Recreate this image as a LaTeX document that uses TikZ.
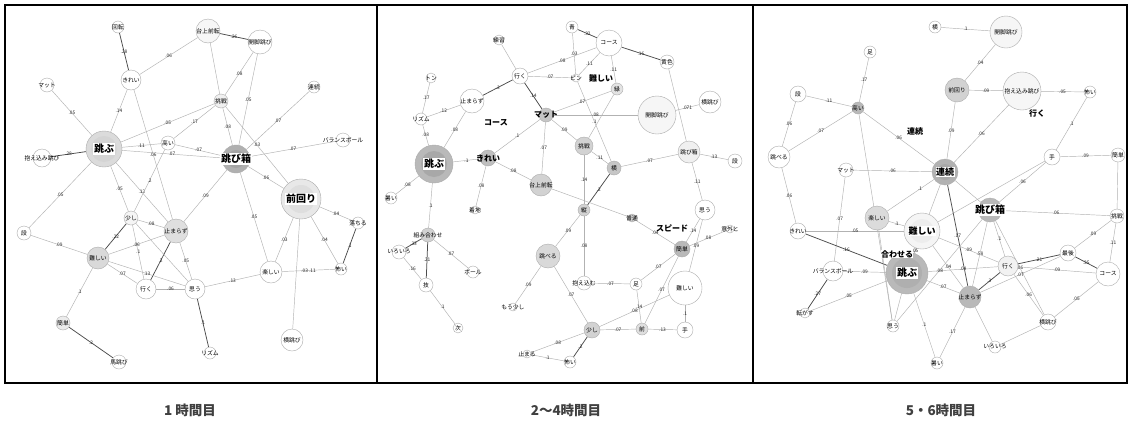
\documentclass[tikz,border=0pt]{standalone}
\usepackage{fontspec}
\setmainfont{Noto Sans CJK JP}
\pgfdeclarelayer{bg}
\pgfsetlayers{bg,main}
\newcommand\nf{\fontsize{5.8}{6}\selectfont}
\newcommand\lf{\fontsize{4.8}{5}\selectfont}
\newcommand\bigf{\fontsize{10}{11}\selectfont\bfseries}
\newcommand\midf{\fontsize{8}{9}\selectfont\bfseries}
\newcommand\capf{\fontsize{13.5}{15}\selectfont\bfseries}
\tikzset{
 n/.style={circle,draw=gray!65,line width=.4pt,fill=white,inner sep=0pt},
 ringnode/.style={circle,draw=none,inner sep=0pt},
 lb/.style={font=\nf,inner sep=0pt,text=black},
 bt/.style={font=\bigf,fill=white,inner sep=1pt,text=black},
 bm/.style={font=\midf,inner sep=0.5pt,text=black},
 ft/.style={font=\midf,inner sep=0pt,text=black},
 ed/.style={draw=gray!60,line width=.45pt},
 sd/.style={draw=black!70,line width=.75pt},
 el/.style={font=\lf,inner sep=.5pt,text=black!85},
 panelframe/.style={draw=black,line width=2.6pt},
 captext/.style={font=\capf,text=black!75},
}
\newcommand\nd[5][]{\node[n,minimum size=#4pt,#1,label={[lb]center:#5}] (#2) at (#3) {};}
\newcommand\eA[3]{\draw[ed] (#1) -- node[el]{#3} (#2);}
\newcommand\eS[3]{\draw[sd] (#1) -- node[el]{#3} (#2);}
\begin{document}
\begin{tikzpicture}[x=1pt,y=-1pt]
\begin{pgfonlayer}{bg}
\fill[white] (0,0) rectangle (1132,421);
\end{pgfonlayer}
\path[use as bounding box] (0,0) rectangle (1132,421);
% ---------- panel 1 ----------
\nd{aKaiten}{118,27}{12}{回転}
\nd{aKirei}{131,80}{20}{きれい}
\nd{aMat}{47,85}{14}{マット}
\nd[fill=gray!28]{aTobu}{104,149}{36}{}
\node[ringnode,fill=gray!34,minimum size=26pt] (aTobuI) at (aTobu) {};
\node[bt] (aTobuT) at (aTobu) {跳ぶ};
\nd{aKakae}{42,158}{18}{抱え込み跳び}
\nd{aTakai}{168,143}{14}{高い}
\nd[fill=gray!6]{aDai}{208,31}{24}{台上前転}
\nd{aKaikyaku}{260,42}{24}{開脚跳び}
\nd[fill=gray!12]{aChosen}{221,101}{14}{挑戦}
\nd{aRenzoku}{314,87}{12}{連続}
\nd{aBall}{343,140}{14}{バランスボール}
\nd[fill=gray!62]{aBox}{236,159}{28}{}
\node[ringnode,fill=gray!72,minimum size=18pt] (aBoxI) at (aBox) {};
\node[bt] (aBoxT) at (aBox) {跳び箱};
\nd[fill=gray!18]{aMae}{301,199}{40}{}
\node[ringnode,fill=gray!26,minimum size=28pt] (aMaeI) at (aMae) {};
\node[bt] (aMaeT) at (aMae) {前回り};
\nd{aDan}{24,233}{14}{段}
\nd[fill=gray!8]{aSukoshi}{131,218}{14}{少し}
\nd[fill=gray!25]{aTomarazu}{176,231}{24}{止まらず}
\nd[fill=gray!30]{aMuzu}{98,258}{22}{難しい}
\nd{aIku}{146,289}{20}{行く}
\nd{aOmou}{195,289}{20}{思う}
\nd[fill=gray!15]{aKantan}{63,323}{14}{簡単}
\nd{aUma}{119,362}{14}{馬跳び}
\nd{aTanoshii}{271,272}{22}{楽しい}
\nd{aKowai}{341,269}{12}{怖い}
\nd{aOchiru}{358,223}{12}{落ちる}
\nd{aRhythm}{210,353}{12}{リズム}
\nd{aYoko}{292,340}{22}{横跳び}
% ---------- panel 2 ----------
\nd{bRenshu}{499,40}{10}{練習}
\nd{bAo}{572,27}{12}{青}
\nd{bCourse}{609,43}{26}{コース}
\nd{bKiiro}{667,62}{14}{黄色}
\nd{bIku}{520,76}{16}{行く}
\nd{bTon}{431,78}{10}{トン}
\nd{bTomarazu}{472,101}{24}{止まらず}
\nd{bRhythm}{421,119}{12}{リズム}
\nd[fill=gray!45,label={[bm]center:マット}]{bMat}{546,115}{14}{}
\nd{bPin}{576,78}{8}{ピン}
\nd[fill=gray!22]{bMidori}{617,89}{12}{緑}
\nd[fill=gray!7]{bKaikyaku}{657,115}{38}{開脚跳び}
\nd{bYokotobi}{710,102}{22}{横跳び}
\nd[fill=gray!55]{bTobu}{434,164}{38}{}
\node[ringnode,fill=gray!68,minimum size=26pt] (bTobuI) at (bTobu) {};
\node[bt] (bTobuT) at (bTobu) {跳ぶ};
\nd[fill=gray!50,label={[bm]center:きれい}]{bKirei}{488,158}{16}{}
\nd[fill=gray!35]{bDai}{541,185}{22}{台上前転}
\nd[fill=gray!35]{bChosen}{584,146}{18}{挑戦}
\nd[fill=gray!45]{bYoko}{614,168}{14}{横}
\nd[fill=gray!12]{bBox}{689,152}{22}{跳び箱}
\nd{bDan}{735,161}{14}{段}
\nd{bAtsui}{391,198}{12}{暑い}
\nd[fill=gray!35]{bKumi}{428,235}{14}{組み合わせ}
\nd{bIroiro}{399,252}{14}{いろいろ}
\nd{bChakuchi}{475,210}{8}{着地}
\nd[fill=gray!30]{bToberu}{548,256}{24}{跳べる}
\nd{bBall}{473,272}{12}{ボール}
\nd{bWaza}{426,285}{14}{技}
\nd{bMosukoshi}{513,307}{8}{もう少し}
\nd{bTsugi}{458,328}{10}{次}
\nd{bTomaru}{527,354}{8}{止まる}
\nd{bKowai}{570,362}{12}{怖い}
\nd[fill=gray!35]{bSukoshi}{592,330}{16}{少し}
\nd[fill=gray!25]{bMae}{642,329}{12}{前}
\nd{bTe}{685,330}{16}{手}
\nd{bAshi}{636,284}{12}{足}
\nd{bKakaekomu}{584,283}{14}{抱え込む}
\nd[fill=gray!55]{bKantan}{682,249}{16}{簡単}
\nd{bMuzu}{685,288}{34}{難しい}
\nd{bOmou}{705,210}{20}{思う}
\nd{bIgai}{730,229}{8}{意外と}
\nd[fill=gray!40]{bFutsu}{632,218}{8}{普通}
\nd[fill=gray!35]{bTate}{584,210}{12}{縦}
\node[ft] (bCourseT) at (496,123) {コース};
\node[ft] (bMuzuT) at (601,78) {難しい};
\node[ft] (bSpeedT) at (672,228) {スピード};
% ---------- panel 3 ----------
\nd{cYoko}{935,27}{12}{横}
\nd[fill=gray!7]{cKaikyaku}{1006,32}{32}{開脚跳び}
\nd{cAshi}{870,52}{12}{足}
\nd{cDan}{798,94}{16}{段}
\nd[fill=gray!55]{cTakai}{858,108}{12}{高い}
\nd[fill=gray!35]{cMae}{957,90}{24}{前回り}
\nd[fill=gray!7]{cKakae}{1022,91}{38}{抱え込み跳び}
\nd{cKowai}{1090,92}{12}{怖い}
\nd{cToberu}{779,157}{22}{跳べる}
\nd{cMat}{846,170}{14}{マット}
\nd[fill=gray!60]{cRenzoku}{945,172}{26}{}
\node[ringnode,fill=gray!68,minimum size=16pt] (cRenzokuI) at (cRenzoku) {};
\node[bm,fill=white,font=\fontsize{9}{10}\selectfont\bfseries] (cRenzokuT) at (cRenzoku) {連続};
\nd{cTe}{1052,157}{16}{手}
\nd{cKantan}{1118,155}{14}{簡単}
\nd{cKirei}{798,231}{16}{きれい}
\nd[fill=gray!28]{cTanoshii}{877,218}{24}{楽しい}
\nd[fill=gray!8]{cMuzu}{922,231}{36}{}
\node[ringnode,fill=gray!14,minimum size=24pt] (cMuzuI) at (cMuzu) {};
\node[bm,fill=white,font=\fontsize{9}{10}\selectfont\bfseries] (cMuzuT) at (cMuzu) {難しい};
\nd[fill=gray!55]{cBox}{990,210}{24}{}
\node[bt] (cBoxT) at (cBox) {跳び箱};
\nd{cRight}{1117,216}{14}{挑戦}
\nd{cBall}{833,271}{20}{バランスボール}
\nd[fill=gray!55]{cTobu}{907,273}{42}{}
\node[ringnode,fill=gray!63,minimum size=30pt] (cTobuI) at (cTobu) {};
\node[bt] (cTobuT) at (cTobu) {跳ぶ};
\nd{cKorogasu}{805,313}{10}{転がす}
\nd{cOmou}{893,326}{12}{思う}
\nd{cAtsui}{937,363}{12}{暑い}
\nd[fill=gray!10]{cIku}{1008,266}{20}{行く}
\nd{cSaigo}{1068,253}{16}{最後}
\nd{cCourse}{1108,274}{24}{コース}
\nd[fill=gray!55]{cTomarazu}{970,297}{22}{止まらず}
\nd{cYokotobi}{1048,322}{16}{横跳び}
\nd{cIroiro}{995,347}{12}{いろいろ}
\node[ft] (cIkuT) at (1037,113) {行く};
\node[ft] (cRenzokuF) at (915,131) {連続};
\node[ft,fill=white] (cAwaseruT) at (897,254) {合わせる};
% ---------- edges ----------
\begin{pgfonlayer}{bg}
% panel 1
\eS{aKaiten}{aKirei}{.28}
\eA{aKirei}{aDai}{.06}
\eA{aKirei}{aTobu}{.14}
\eA{aKirei}{aTomarazu}{.06}
\eA{aMat}{aTobu}{.05}
\eS{aKakae}{aTobu}{.28}
\eA{aTobu}{aTakai}{.11}
\eA{aTobu}{aBox}{.07}
\eA{aTobu}{aChosen}{.05}
\eA{aTobu}{aDan}{.05}
\eA{aTobu}{aTomarazu}{.12}
\eA{aTobu}{aSukoshi}{.05}
\eA{aTakai}{aBox}{.07}
\eA{aTakai}{aChosen}{.17}
\eA{aTakai}{aSukoshi}{.2}
\eS{aDai}{aKaikyaku}{.26}
\eA{aDai}{aChosen}{}
\eA{aKaikyaku}{aChosen}{.08}
\eA{aKaikyaku}{aBox}{.05}
\eA{aChosen}{aBox}{.08}
\eA{aChosen}{aMae}{.03}
\eA{aRenzoku}{aBox}{.07}
\eA{aBall}{aBox}{.07}
\eA{aBox}{aMae}{.06}
\eA{aBox}{aTomarazu}{.09}
\eA{aBox}{aTanoshii}{.05}
\eA{aMae}{aTanoshii}{.03}
\eA{aMae}{aKowai}{.04}
\eA{aMae}{aOchiru}{.04}
\eA{aMae}{aYoko}{}
\eS{aOchiru}{aKowai}{.1}
\eA{aTanoshii}{aKowai}{.03 .11}
\eA{aOmou}{aTanoshii}{.13}
\eS{aOmou}{aRhythm}{.1}
\eA{aTomarazu}{aOmou}{.05}
\eS{aTomarazu}{aIku}{.2}
\eA{aSukoshi}{aTomarazu}{.08}
\eS{aSukoshi}{aMuzu}{.22}
\eA{aSukoshi}{aIku}{.1}
\eA{aSukoshi}{aOmou}{}
\eA{aMuzu}{aDan}{.09}
\eA{aMuzu}{aIku}{.07}
\eA{aMuzu}{aOmou}{.13}
\eA{aMuzu}{aTomarazu}{.06}
\eA{aMuzu}{aKantan}{.1}
\eS{aKantan}{aUma}{.2}
\eA{aIku}{aOmou}{.06}
% panel 2
\eA{bRenshu}{bIku}{}
\eS{bAo}{bCourse}{.32}
\eA{bAo}{bPin}{.03}
\eA{bPin}{bYoko}{.1}
\eS{bCourse}{bKiiro}{.16}
\eA{bIku}{bCourse}{.08}
\eA{bCourse}{bPin}{.11}
\eA{bCourse}{bMidori}{.11}
\eA{bIku}{bPin}{.07}
\eS{bIku}{bTomarazu}{.3}
\eS{bIku}{bMat}{.14}
\eA{bTon}{bRhythm}{.17}
\eA{bRhythm}{bTomarazu}{.12}
\eA{bRhythm}{bTobu}{.08}
\eA{bTomarazu}{bTobu}{.08}
\eA{bTobu}{bAtsui}{.08}
\eA{bTobu}{bKirei}{.1}
\eA{bTobu}{bKumi}{.1}
\eA{bKirei}{bMat}{.1}
\eA{bKirei}{bDai}{.08}
\eA{bKirei}{bChakuchi}{.08}
\eA{bMat}{bDai}{.07}
\eA{bMat}{bMidori}{.07}
\eA{bMat}{bKaikyaku}{.08}
\eA{bMat}{bChosen}{.09}
\eA{bMidori}{bChosen}{}
\eA{bKaikyaku}{bYokotobi}{.071}
\eA{bKiiro}{bBox}{}
\eA{bBox}{bDan}{.13}
\eA{bBox}{bYoko}{.07}
\eA{bBox}{bOmou}{.11}
\eA{bChosen}{bYoko}{.11}
\eA{bChosen}{bTate}{.14}
\eS{bYoko}{bTate}{.2}
\eA{bDai}{bFutsu}{}
\eA{bFutsu}{bKantan}{.04}
\eA{bTate}{bKakaekomu}{.08}
\eA{bTate}{bToberu}{.09}
\eA{bToberu}{bMosukoshi}{.09}
\eA{bToberu}{bSukoshi}{.07}
\eA{bKantan}{bOmou}{.14}
\eA{bKantan}{bIgai}{.08}
\eA{bKantan}{bAshi}{.07}
\eA{bKantan}{bMae}{.07}
\eA{bOmou}{bMuzu}{.09}
\eA{bMuzu}{bSukoshi}{.08}
\eA{bMuzu}{bTe}{.1}
\eA{bAshi}{bMae}{.14}
\eA{bKakaekomu}{bAshi}{.07}
\eA{bSukoshi}{bMae}{.07}
\eA{bMae}{bTe}{.13}
\eS{bSukoshi}{bKowai}{.2}
\eA{bSukoshi}{bTomaru}{.08}
\eA{bTomaru}{bKowai}{.1}
\eS{bKumi}{bIroiro}{.33}
\eS{bKumi}{bWaza}{.21}
\eA{bKumi}{bBall}{.07}
\eA{bIroiro}{bWaza}{.16}
\eA{bWaza}{bTsugi}{.1}
% panel 3
\eA{cYoko}{cKaikyaku}{.1}
\eA{cKaikyaku}{cMae}{.04}
\eA{cMae}{cKakae}{.09}
\eA{cKakae}{cKowai}{.05}
\eA{cMae}{cRenzoku}{.09}
\eA{cKakae}{cRenzoku}{.06}
\eA{cKowai}{cTe}{.1}
\eA{cTe}{cKantan}{.09}
\eA{cTe}{cBox}{.06}
\eA{cTe}{cMuzu}{}
\eA{cKantan}{cRight}{}
\eA{cAshi}{cTakai}{.17}
\eA{cDan}{cTakai}{.11}
\eA{cDan}{cToberu}{.06}
\eA{cTakai}{cToberu}{.07}
\eA{cTakai}{cRenzoku}{.06}
\eA{cTakai}{cOmou}{.05}
\eA{cToberu}{cKirei}{.06}
\eA{cMat}{cRenzoku}{.06}
\eA{cMat}{cBall}{.07}
\eA{cRenzoku}{cTobu}{.1}
\eS{cRenzoku}{cTomarazu}{.17}
\eA{cRenzoku}{cBox}{}
\draw[ed] (cRenzoku) -- node[el,pos=.3]{.1} (cTanoshii);
\eA{cKirei}{cMuzu}{.05}
\eS{cKirei}{cTobu}{.16}
\eA{cBall}{cTobu}{.09}
\eS{cBall}{cKorogasu}{.27}
\eA{cKorogasu}{cTobu}{.05}
\eA{cTanoshii}{cMuzu}{.1}
\eA{cTanoshii}{cOmou}{}
\eA{cMuzu}{cTobu}{.05}
\eA{cTobu}{cOmou}{}
\eA{cTobu}{cAtsui}{.1}
\eA{cTobu}{cTomarazu}{.07}
\eA{cTobu}{cIku}{.04}
\eA{cBox}{cIku}{.1}
\eA{cBox}{cRight}{.06}
\eA{cBox}{cTomarazu}{.58}
\eA{cBox}{cYokotobi}{.06}
\eA{cRight}{cSaigo}{.09}
\eA{cRight}{cCourse}{.11}
\eS{cSaigo}{cIku}{.21}
\eS{cSaigo}{cCourse}{.35}
\eA{cIku}{cCourse}{.09}
\eS{cIku}{cTomarazu}{.3}
\eA{cIku}{cYokotobi}{.06}
\eA{cTomarazu}{cSaigo}{.07}
\eA{cTomarazu}{cIroiro}{}
\eA{cTomarazu}{cAtsui}{.17}
\eA{cCourse}{cYokotobi}{.05}
\eA{cYokotobi}{cIroiro}{}
\eA{cOmou}{cBox}{.08}
\eA{cMuzu}{cIku}{.09}
\eA{cMuzu}{cTomarazu}{.04}
\end{pgfonlayer}
% ---------- frames & captions ----------
\draw[panelframe] (5,5) rectangle (377,383);
\draw[panelframe] (377,5) rectangle (753,383);
\draw[panelframe] (753,5) rectangle (1127,383);
\node[captext] (cap1) at (190,410) {1 時間目};
\node[captext] (cap2) at (566,410) {2～4時間目};
\node[captext] (cap3) at (941,410) {5・6時間目};
\end{tikzpicture}
\end{document}
